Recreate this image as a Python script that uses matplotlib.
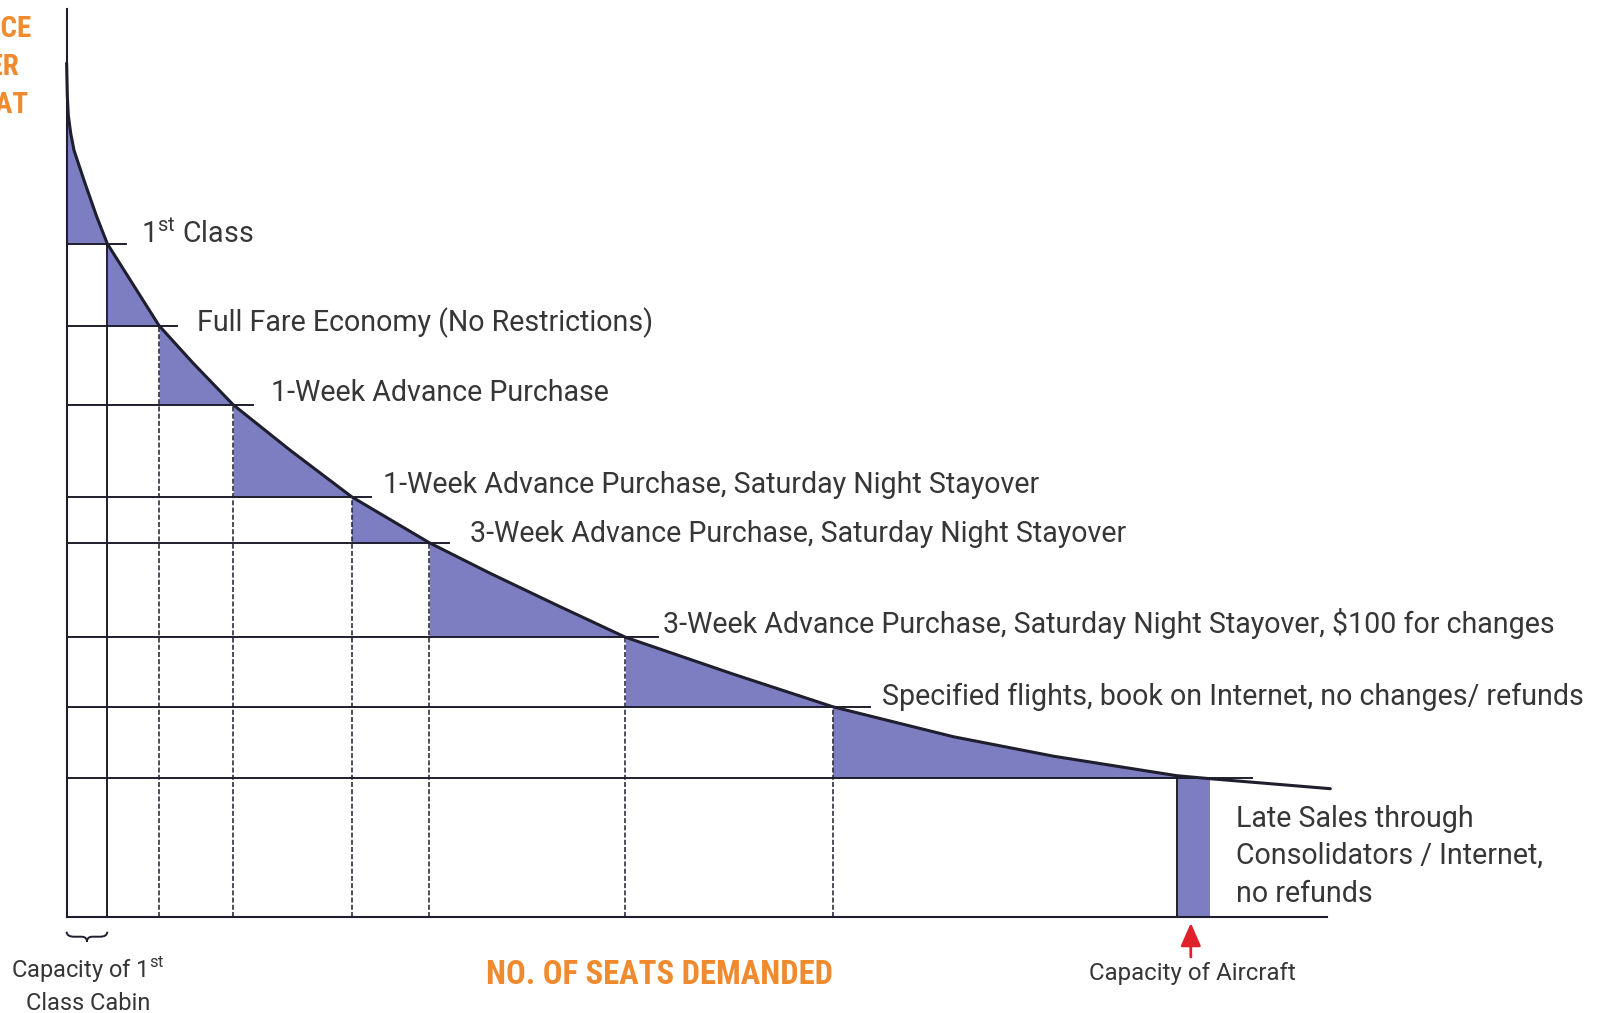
"""
Airline fare classes drawn as slices under a seat-demand curve.
"""

import matplotlib
matplotlib.use("Agg")
import matplotlib.pyplot as plt
from matplotlib import font_manager
from matplotlib.path import Path
from matplotlib.patches import PathPatch
import numpy as np

# Demand curve: seats sold at each fare
CURVE_SEATS = [0, 0.2, 0.46, 1.1, 2.0, 3.16, 4.97, 8.14, 11, 25, 34.2, 45, 60.4, 77, 98,
               114.4, 132.5, 151, 180.2, 207, 239.6, 266.7, 300, 309, 341.5]
CURVE_FARES = [1707, 1640, 1603, 1567, 1533, 1507, 1467, 1400, 1346, 1182, 1107, 1024, 933,
               840, 748, 687, 623, 559, 485, 420, 360, 321, 282, 276, 256]

# Fare classes: cumulative seats at each break and the fare charged there
CLASS_LABELS = [
    r"1$^{\mathrm{st}}$ Class",
    "Full Fare Economy (No Restrictions)",
    "1-Week Advance Purchase",
    "1-Week Advance Purchase, Saturday Night Stayover",
    "3-Week Advance Purchase, Saturday Night Stayover",
    "3-Week Advance Purchase, Saturday Night Stayover, $100 for changes",
    "Specified flights, book on Internet, no changes/ refunds",
]
SEAT_BREAKS = [11, 25, 45, 77, 98, 151, 207, 300]
FARE_LEVELS = [1346, 1182, 1024, 840, 748, 559, 420, 277]

FIRST_CLASS_SEATS = 11
AIRCRAFT_CAPACITY = 300
LATE_SALES_SEATS = 309
LATE_SALES_LINES = ["Late Sales through", "Consolidators / Internet,", "no refunds"]

# layout (seat / fare units)
LEADER_EXT = [5, 4.9, 5.3, 5.3, 5.4, 8.9, 10, 20.3]
LABEL_X = [20.2, 35.2, 55.2, 85.5, 109, 161.3, 220.3]
LABEL_BASE = [1348, 1172, 1031, 848, 750, 567, 423]

FILL = "#7C7EC1"
INK = "#1E1E2E"
TEXT = "#363636"
ORANGE = "#EF8A2E"

names = {f.name for f in font_manager.fontManager.ttflist}
BODY = next((n for n in ["Roboto", "Liberation Sans"] if n in names), "DejaVu Sans")
COND = next((n for n in ["Roboto Condensed", "Liberation Sans Narrow", "Roboto"]
             if n in names), "DejaVu Sans")
plt.rcParams["font.family"] = [BODY, "DejaVu Sans"]
plt.rcParams["mathtext.fontset"] = "custom"
plt.rcParams["mathtext.rm"] = BODY
plt.rcParams["lines.scale_dashes"] = False

fig = plt.figure(figsize=(16.06, 10.13), dpi=100)
ax = fig.add_axes([0, 0, 1, 1])
ax.set_xlim(-18.0, 416.0)
ax.set_ylim(-192.6, 1833.4)
ax.axis("off")

seats = np.array(CURVE_SEATS)
fares = np.array(CURVE_FARES)

# shaded slice above each fare level, under the curve
left = 0
for right, level in zip(SEAT_BREAKS, FARE_LEVELS):
    m = (seats >= left) & (seats <= right)
    ax.fill_between(seats[m], fares[m], level, color=FILL, lw=0, zorder=1)
    left = right
ax.fill_between([AIRCRAFT_CAPACITY, LATE_SALES_SEATS], 0, FARE_LEVELS[-1],
                color=FILL, lw=0, zorder=1)

# fare level lines and seat break lines
for i, (b, level) in enumerate(zip(SEAT_BREAKS, FARE_LEVELS)):
    ax.plot([0, b + LEADER_EXT[i]], [level, level], color=INK, lw=1.4, zorder=2)
    if i == 0 or b == AIRCRAFT_CAPACITY:
        ax.plot([b, b], [0, level], color=INK, lw=1.4, zorder=2)
    else:
        ax.plot([b, b], [0, level], color=INK, lw=1.1, dashes=(3.6, 1.6), zorder=2)

# axes
ax.plot([0, 0], [0, 1815], color=INK, lw=1.5, zorder=3)
ax.plot([0, 340.6], [0, 0], color=INK, lw=1.5, zorder=3)

ax.plot(seats, fares, color=INK, lw=2.2, solid_joinstyle="round",
        solid_capstyle="round", zorder=4)

for txt, x, y in zip(CLASS_LABELS, LABEL_X, LABEL_BASE):
    ax.text(x, y, txt, fontsize=20.6, color=TEXT, va="baseline", ha="left")
for txt, y in zip(LATE_SALES_LINES, [180.0, 106.8, 30.0]):
    ax.text(316, y, txt, fontsize=20.6, color=TEXT, va="baseline", ha="left")

for txt, y in zip(["PRICE", "PER", "SEAT"], [1760, 1683, 1607]):
    ax.text(-19.0, y, txt, fontsize=21, color=ORANGE, fontweight="bold",
            family=COND, va="baseline", ha="center")
ax.text(160.1, -135, "NO. OF SEATS DEMANDED", fontsize=23.5, color=ORANGE,
        fontweight="bold", family=COND, va="baseline", ha="center")

ax.text(FIRST_CLASS_SEATS / 2 + 0.2, -120, r"Capacity of 1$^{\mathrm{st}}$",
        fontsize=17, color=TEXT, va="baseline", ha="center")
ax.text(FIRST_CLASS_SEATS / 2 + 0.2, -186.6, "Class Cabin",
        fontsize=17, color=TEXT, va="baseline", ha="center")
ax.text(AIRCRAFT_CAPACITY + 4.2, -126.6, "Capacity of Aircraft",
        fontsize=17.3, color=TEXT, va="baseline", ha="center")

# capacity arrow
ax.annotate("", xy=(AIRCRAFT_CAPACITY + 3.8, -12.6),
            xytext=(AIRCRAFT_CAPACITY + 3.8, -80.6),
            arrowprops=dict(arrowstyle="-|>,head_length=0.5,head_width=0.22",
                            color="#E0202A", lw=2, mutation_scale=28,
                            shrinkA=0, shrinkB=0))

# brace under the first-class seats
w = FIRST_CLASS_SEATS
c = w / 2
verts = [(0, -30), (0, -40), (2, -40), (c - 1.5, -40), (c, -40), (c, -50),
         (c, -40), (c + 1.5, -40), (w - 2, -40), (w, -40), (w, -30)]
codes = [Path.MOVETO, Path.CURVE3, Path.CURVE3, Path.LINETO, Path.CURVE3, Path.CURVE3,
         Path.CURVE3, Path.CURVE3, Path.LINETO, Path.CURVE3, Path.CURVE3]
ax.add_patch(PathPatch(Path(verts, codes), fill=False, edgecolor=INK, lw=1.4))

fig.savefig("out.png", dpi=100, facecolor="white")
